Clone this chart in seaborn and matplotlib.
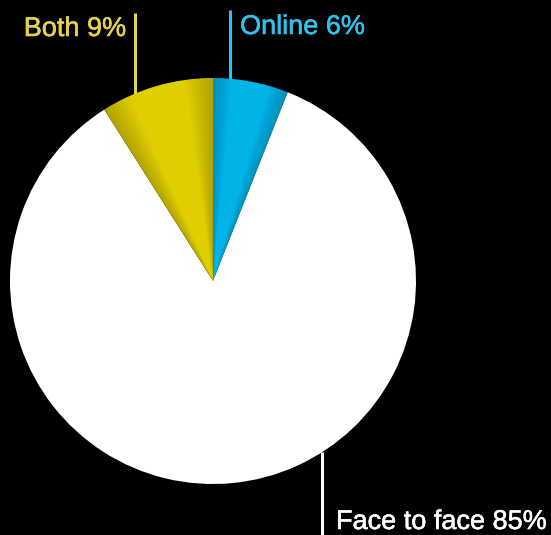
import numpy as np
import matplotlib
matplotlib.use("Agg")
import matplotlib.pyplot as plt
import matplotlib.patheffects as pe
from matplotlib.patches import Wedge
import seaborn as sns

categories = ["Online", "Face to face", "Both"]
values = [6, 85, 9]
colors = ["#00B4E8", "#FFFFFF", "#E0CF00"]
text_colors = ["#2EC3EE", "#FFFFFF", "#E4D34A"]

sns.set_theme(style="white")
plt.rcParams["font.family"] = ["Liberation Sans", "DejaVu Sans"]

W, H = 551, 535
fig = plt.figure(figsize=(W / 100, H / 100), dpi=100, facecolor="black")
ax = fig.add_axes([0, 0, 1, 1])
ax.set_facecolor("black")

cx, cy, r = 213, H - 281, 203
wedges, _ = ax.pie(values, colors=colors, startangle=90, counterclock=False,
                   center=(cx, cy), radius=r, frame=True,
                   wedgeprops=dict(linewidth=0))
ax.set_xlim(0, W)
ax.set_ylim(0, H)
ax.set_aspect("equal")
ax.axis("off")

# subtle edge shading on coloured wedges
for w, col in zip(wedges, colors):
    if col == "#FFFFFF":
        continue
    t1, t2 = w.theta1, w.theta2
    steps = 15
    span = (t2 - t1) * 0.25
    for k in range(steps):
        d1 = span * (steps - k) / steps
        for lo, hi in ((t1, t1 + d1), (t2 - d1, t2)):
            ax.add_patch(Wedge((cx, cy), r, lo, hi, facecolor="black",
                               alpha=0.01, lw=0))

# leader lines (angle on circle, end y in pixels)
leaders = [(85.2, 10, "Online 6%", 240, 27, "left"),
           (-57.5, 535, "Face to face 85%", 336, 522, "left"),
           (112.6, 13, "Both 9%", 126, 29, "right")]
for (ang, yend, label, tx, ty, ha), tc in zip(leaders, text_colors):
    x0 = cx + r * np.cos(np.radians(ang))
    y0 = cy + r * np.sin(np.radians(ang))
    ax.plot([x0, x0], [y0, H - yend], color=tc, lw=2.2, solid_capstyle="butt")
    ax.text(tx, H - ty, label, color=tc, fontsize=19.5, ha=ha, va="center",
            path_effects=[pe.withStroke(linewidth=0.4, foreground=tc)])

fig.savefig("out.png", dpi=100, facecolor="black")
